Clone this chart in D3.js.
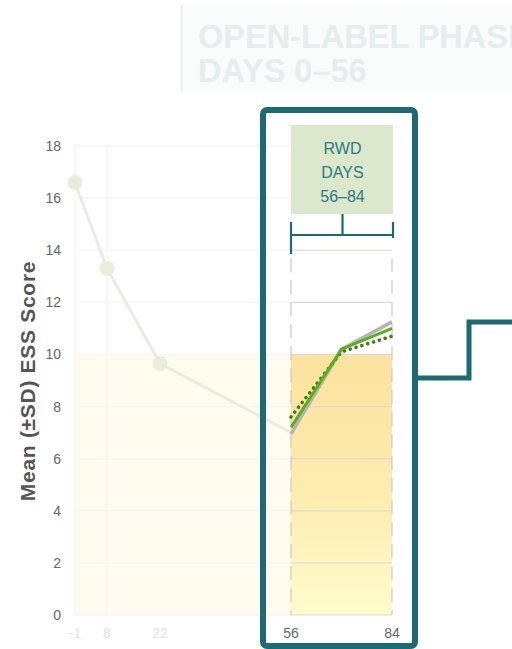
<!DOCTYPE html>
<html>
<head>
<meta charset="utf-8">
<script src="https://cdn.jsdelivr.net/npm/d3@7"></script>
<style>
  html, body { margin: 0; padding: 0; background: #fff; }
  svg { display: block; font-family: "Liberation Sans", Arial, sans-serif; }
</style>
</head>
<body>
<svg id="chart" width="512" height="649"></svg>
<script>
// Mean ESS score over time
const yTicks = [0, 2, 4, 6, 8, 10, 12, 14, 16, 18];
const xTickDays = [-1, 8, 22, 56, 84];
const openDays = [-1, 8, 22, 56];
const openMeans = [16.6, 13.3, 9.65, 7.0];
const rwdDays = [56, 70, 84];
const rwdGrayMeans = [6.95, 10.2, 11.25];
const rwdGreenMeans = [7.2, 10.2, 11.0];
const rwdDottedMeans = [7.6, 10.1, 10.7];
const normalRange = [0, 10];
const rwdWindow = [56, 84];

const svg = d3.select("#chart");
const y = d3.scaleLinear().domain([0, 18]).range([615, 146]);
const x = d3.scaleLinear().domain(xTickDays).range([75, 107, 160, 291, 392]);

const defs = svg.append("defs");
const grad = defs.append("linearGradient").attr("id", "band").attr("x1", 0).attr("y1", 0).attr("x2", 0).attr("y2", 1);
grad.append("stop").attr("offset", "0%").attr("stop-color", "#fde29e");
grad.append("stop").attr("offset", "55%").attr("stop-color", "#fdedb0");
grad.append("stop").attr("offset", "100%").attr("stop-color", "#fffccc");

// ---- faded open-label background ----
const bg = svg.append("g");
bg.append("rect").attr("x", 181).attr("y", 5).attr("width", 340).attr("height", 87).attr("fill", "#fafbfb");
bg.append("line").attr("x1", 181.5).attr("x2", 181.5).attr("y1", 5).attr("y2", 92).attr("stroke", "#e8eeee").attr("stroke-width", 2);
bg.append("text").attr("x", 198).attr("y", 48).attr("font-size", 32.5).attr("font-weight", "bold").attr("fill", "#e6eded").text("OPEN-LABEL PHASE");
bg.append("text").attr("x", 198).attr("y", 82).attr("font-size", 32.5).attr("font-weight", "bold").attr("fill", "#e6eded").text("DAYS 0–56");

// faded normal band
bg.append("rect").attr("x", x(-1)).attr("y", y(normalRange[1])).attr("width", x(56) - x(-1)).attr("height", y(normalRange[0]) - y(normalRange[1])).attr("fill", "#fffbef");

// faded gridlines
bg.selectAll("line.g").data(yTicks).join("line")
  .attr("x1", x(-1)).attr("x2", x(56)).attr("y1", d => y(d)).attr("y2", d => y(d))
  .attr("stroke", "#f5f5f3").attr("stroke-width", 1.5);
bg.selectAll("line.v").data([-1, 8]).join("line")
  .attr("x1", d => x(d)).attr("x2", d => x(d)).attr("y1", y(18)).attr("y2", y(0))
  .attr("stroke", "#f6f7f3").attr("stroke-width", 1.5);

// faded open-label mean line
const line = d3.line().x(d => x(d[0])).y(d => y(d[1]));
bg.append("path").datum(openDays.map((d, i) => [d, openMeans[i]]))
  .attr("d", line).attr("fill", "none").attr("stroke", "#e9eddf").attr("stroke-width", 3);
bg.selectAll("circle").data(openDays.slice(0, 3)).join("circle")
  .attr("cx", d => x(d)).attr("cy", (d, i) => y(openMeans[i])).attr("r", 7.5).attr("fill", "#e8eddc");

// faded x tick labels
bg.selectAll("text.xt").data([-1, 8, 22]).join("text")
  .attr("x", d => x(d)).attr("y", 638).attr("text-anchor", "middle").attr("font-size", 14)
  .attr("fill", "#e2e2e2").text(d => d);

// ---- y axis ----
const yAxis = svg.append("g").attr("transform", "translate(61,0)")
  .call(d3.axisLeft(y).tickValues(yTicks).tickSize(0).tickPadding(0));
yAxis.select(".domain").remove();
yAxis.selectAll("text").attr("font-size", 14).attr("fill", "#666").attr("font-family", "Liberation Sans, Arial, sans-serif");

svg.append("text").attr("transform", "translate(35,381) rotate(-90)")
  .attr("text-anchor", "middle").attr("font-size", 21).attr("font-weight", "bold").attr("fill", "#555")
  .attr("letter-spacing", 0.7).text("Mean (±SD) ESS Score");

// ---- RWD window (days 56–84) ----
const fg = svg.append("g");
const x0 = x(rwdWindow[0]), x1 = x(rwdWindow[1]);
fg.append("rect").attr("x", x0).attr("y", y(normalRange[1])).attr("width", x1 - x0)
  .attr("height", y(normalRange[0]) - y(normalRange[1])).attr("fill", "url(#band)");
fg.selectAll("line.g").data(yTicks.filter(d => d <= 14)).join("line")
  .attr("x1", x0).attr("x2", x1).attr("y1", d => y(d)).attr("y2", d => y(d))
  .attr("stroke", "#dcdcd6").attr("stroke-width", 1.2);
fg.selectAll("line.v").data(rwdWindow).join("line")
  .attr("x1", d => x(d)).attr("x2", d => x(d)).attr("y1", y(14) + 8).attr("y2", y(0))
  .attr("stroke", "#c8c8c8").attr("stroke-width", 1.2).attr("stroke-dasharray", "14,8");

fg.append("path").datum(rwdDays.map((d, i) => [d, rwdGrayMeans[i]]))
  .attr("d", line).attr("fill", "none").attr("stroke", "#b4b4b4").attr("stroke-width", 3.5);
fg.append("path").datum(rwdDays.map((d, i) => [d, rwdDottedMeans[i]]))
  .attr("d", line).attr("fill", "none").attr("stroke", "#3e7d17").attr("stroke-width", 3.6)
  .attr("stroke-dasharray", "0.1,6").attr("stroke-linecap", "round");
fg.append("path").datum(rwdDays.map((d, i) => [d, rwdGreenMeans[i]]))
  .attr("d", line).attr("fill", "none").attr("stroke", "#5eae1c").attr("stroke-width", 3);

// x tick labels for the window
fg.selectAll("text.xt").data(rwdWindow).join("text")
  .attr("x", d => x(d)).attr("y", 638).attr("text-anchor", "middle").attr("font-size", 14)
  .attr("fill", "#666").text(d => d);

// header label
fg.append("rect").attr("x", x0).attr("y", 125).attr("width", x1 - x0 + 1).attr("height", 89).attr("fill", "#dbe8cc");
["RWD", "DAYS", "56–84"].forEach((t, i) => {
  fg.append("text").attr("x", (x0 + x1) / 2 + 1).attr("y", 154 + i * 24).attr("text-anchor", "middle")
    .attr("font-size", 16).attr("fill", "#2b7b80").text(t);
});

// bracket
const teal = "#1c6a73";
const br = fg.append("g").attr("stroke", teal).attr("stroke-width", 2.2).attr("fill", "none");
br.append("line").attr("x1", x0).attr("x2", x1 + 1).attr("y1", 235).attr("y2", 235);
br.append("line").attr("x1", x0).attr("x2", x0).attr("y1", 222).attr("y2", 254);
br.append("line").attr("x1", x1 + 1).attr("x2", x1 + 1).attr("y1", 222).attr("y2", 238);
br.append("line").attr("x1", (x0 + x1) / 2 + 1).attr("x2", (x0 + x1) / 2 + 1).attr("y1", 214).attr("y2", 235);

// highlight frame and connector
svg.append("rect").attr("x", 263).attr("y", 110).attr("width", 152).attr("height", 536).attr("rx", 4)
  .attr("fill", "none").attr("stroke", teal).attr("stroke-width", 6);
svg.append("path").attr("d", "M415,378 H469 V322 H515").attr("fill", "none").attr("stroke", teal).attr("stroke-width", 5);
</script>
</body>
</html>
